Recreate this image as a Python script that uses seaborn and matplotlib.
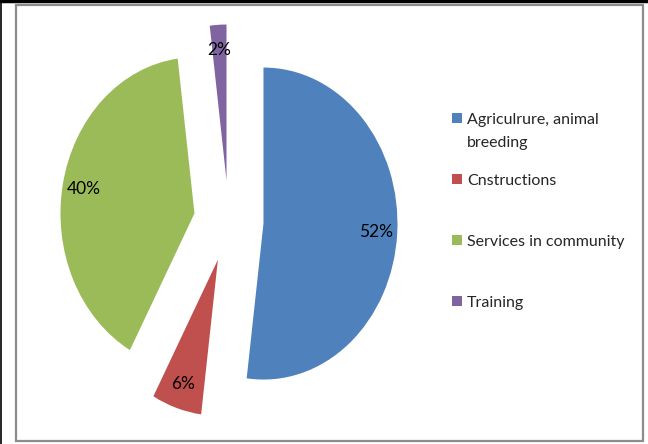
import matplotlib
matplotlib.use("Agg")
import matplotlib.pyplot as plt
import seaborn as sns
from matplotlib.patches import Rectangle
from matplotlib.lines import Line2D

# data
categories = ["Agriculrure, animal\nbreeding", "Cnstructions", "Services in community", "Training"]
shares = [52, 6, 40, 2]
colors = ["#4F81BD", "#C0504D", "#9BBB59", "#8064A2"]
legend_rows_y = [118, 179, 240, 301]   # legend marker centres, px from top

sns.set_style("white")
plt.rcParams["font.family"] = ["Lato", "DejaVu Sans"]

W, H = 648, 444
fig = plt.figure(figsize=(W / 100, H / 100), dpi=100)

# pie centre ~ (228.7, 221) px, radius 134 px wide / 156 px tall (stretched picture)
rx, ry, cx, cy, lim = 134, 156, 228.7, 221, 1.3
ax = fig.add_axes([(cx - lim * rx) / W, (H - cy - lim * ry) / H,
                   2 * lim * rx / W, 2 * lim * ry / H])
wedges, texts, autotexts = ax.pie(
    shares, explode=[0.26] * len(shares), colors=colors,
    startangle=90, counterclock=False,
    autopct="%1.0f%%", pctdistance=0.84,
    textprops={"fontsize": 12.5, "color": "black"},
    wedgeprops={"linewidth": 0})
ax.set_aspect("auto")
ax.set_xlim(-lim, lim)
ax.set_ylim(-lim, lim)
ax.axis("off")

# legend drawn by hand to keep Excel-like placement (wrapped lines 23 px apart)
for label, col, y in zip(categories, colors, legend_rows_y):
    fig.add_artist(Rectangle((452 / W, 1 - (y + 5) / H), 10 / W, 10 / H,
                             transform=fig.transFigure, facecolor=col, edgecolor="none"))
    for i, line in enumerate(label.split("\n")):
        fig.text(467 / W, 1 - (y + 2 + 23 * i) / H, line, fontsize=11.5,
                 va="center", ha="left")

# chart frame (grey) and the black edges of the screenshot
fig.add_artist(Rectangle((16 / W, 1 - 441 / H), 627 / W, 436 / H, transform=fig.transFigure,
                         fill=False, edgecolor="#8C8C8C", linewidth=1.6))
fig.add_artist(Line2D([0, 1], [1 - 1.5 / H, 1 - 1.5 / H], transform=fig.transFigure,
                      color="black", linewidth=2.5))
fig.add_artist(Line2D([0.5 / W, 0.5 / W], [0, 1], transform=fig.transFigure,
                      color="black", linewidth=1.2))

fig.savefig("out.png", dpi=100)
